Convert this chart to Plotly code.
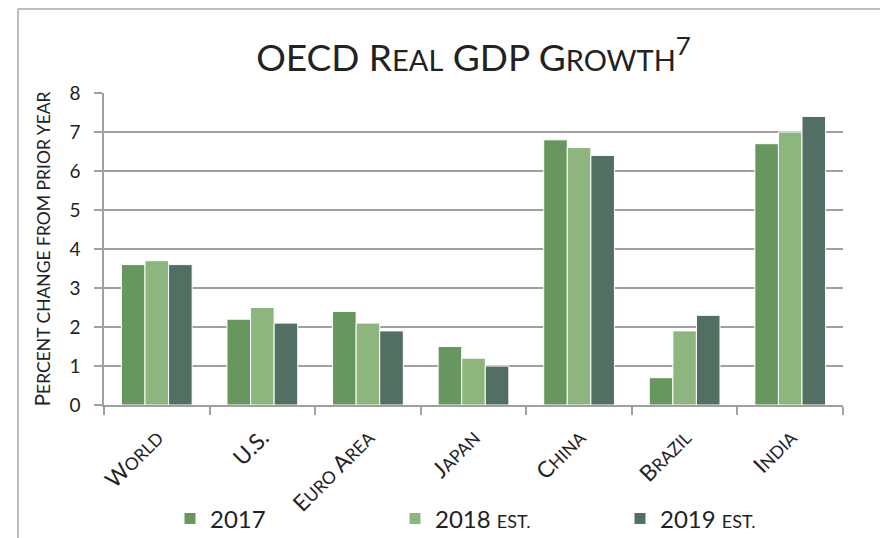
import plotly.graph_objects as go

categories = ["World", "U.S.", "Euro Area", "Japan", "China", "Brazil", "India"]
series_names = ["2017", "2018 est.", "2019 est."]
v2017 = [3.6, 2.2, 2.4, 1.5, 6.8, 0.7, 6.7]
v2018 = [3.7, 2.5, 2.1, 1.2, 6.6, 1.9, 7.0]
v2019 = [3.6, 2.1, 1.9, 1.0, 6.4, 2.3, 7.4]
colors = ["#67975F", "#8DB67E", "#536F63"]

FONT = "Lato"


def small_caps(text, small):
    out = []
    for word in text.split(" "):
        first, rest = word[0], word[1:]
        s = first.upper()
        if rest:
            s += "<span style='font-size:%gpx'>%s</span>" % (small, rest.upper())
        out.append(s)
    return " ".join(out)


def label(cat):
    if cat == "U.S.":
        return cat
    return small_caps(cat, 17.5)


def legend_name(n):
    parts = n.split(" ")
    if len(parts) == 1:
        return parts[0]
    return parts[0] + " <span style='font-size:18px'>" + parts[1].upper() + "</span>"


tick_text = [label(c) for c in categories]

fig = go.Figure()
for name, vals, col in zip(series_names, [v2017, v2018, v2019], colors):
    fig.add_trace(go.Bar(
        x=categories, y=vals, name=legend_name(name),
        marker=dict(color=col, line=dict(color="white", width=1)),
    ))

title = ("OECD R<span style='font-size:29px'>EAL</span> GDP "
         "G<span style='font-size:29px'>ROWTH</span><sup>7</sup>")
ytitle = "P<span style='font-size:17.5px'>ERCENT CHANGE FROM PRIOR YEAR</span>"

fig.update_layout(
    width=880, height=538,
    margin=dict(l=104, r=37, t=93, b=133, autoexpand=False),
    paper_bgcolor="white", plot_bgcolor="white",
    font=dict(family=FONT, color="#222222"),
    title=dict(text=title, x=0.5, xref="paper", y=0.893, yanchor="middle",
               font=dict(size=37, family=FONT, color="#222222")),
    barmode="group", bargap=0.33, bargroupgap=0,
    showlegend=True,
    legend=dict(orientation="h", x=(170 - 104) / 739, xanchor="left", y=-0.365, yanchor="middle",
                font=dict(size=24, family=FONT), entrywidth=180, itemwidth=30,
                traceorder="normal", bgcolor="rgba(0,0,0,0)"),
    xaxis=dict(
        tickmode="array", tickvals=categories, ticktext=tick_text,
        tickangle=-45, tickfont=dict(size=22.5, family=FONT),
        showline=True, linecolor="#A0A0A0", linewidth=1.5,
        ticks="outside", ticklen=8, tickcolor="#A0A0A0", tickwidth=1.5,
        tickson="boundaries", showgrid=False, automargin=False,
        ticklabelstandoff=9,
    ),
    yaxis=dict(
        range=[0, 8], dtick=1, tickfont=dict(size=19, family=FONT),
        showline=True, linecolor="#A0A0A0", linewidth=1.5,
        ticks="outside", ticklen=8, tickcolor="#A0A0A0", tickwidth=1.5,
        showgrid=True, gridcolor="#A0A0A0", gridwidth=1.5,
        zeroline=False, automargin=False, ticklabelstandoff=10,
        title=dict(text=ytitle, font=dict(size=21, family=FONT), standoff=13),
    ),
    shapes=[
        dict(type="line", xref="paper", yref="paper",
             x0=(18 - 104) / 739, x1=(880 - 104) / 739 + 0.01,
             y0=(405 - 9) / 312, y1=(405 - 9) / 312,
             line=dict(color="#BDBDBD", width=2)),
        dict(type="line", xref="paper", yref="paper",
             x0=(18 - 104) / 739, x1=(18 - 104) / 739,
             y0=(405 - 9) / 312, y1=(405 - 545) / 312,
             line=dict(color="#BDBDBD", width=2)),
    ],
)

fig.write_html("out.html")
